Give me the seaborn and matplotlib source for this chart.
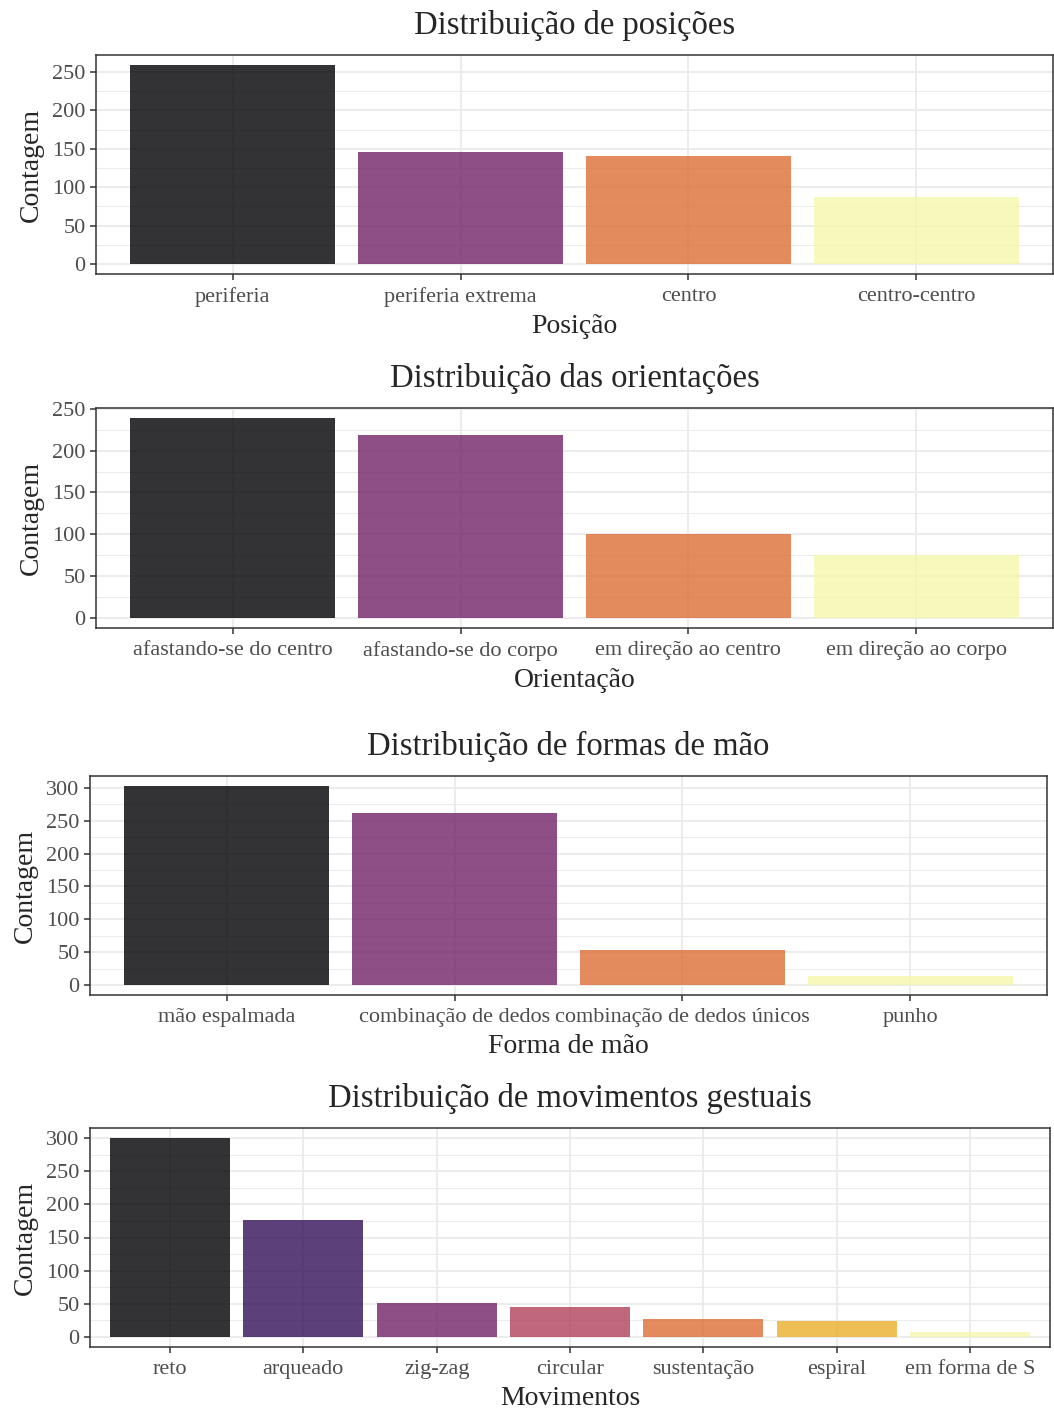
import numpy as np
import pandas as pd
import matplotlib
matplotlib.use("Agg")
import matplotlib.pyplot as plt
from matplotlib.ticker import MultipleLocator
import seaborn as sns

# Data
posicao_cats = ['periferia', 'periferia extrema', 'centro', 'centro-centro']
posicao_vals = [259, 146, 141, 87]

orient_cats = ['afastando-se do centro', 'afastando-se do corpo',
               'em direção ao centro', 'em direção ao corpo']
orient_vals = [239, 219, 100, 75]

forma_cats = ['mão espalmada', 'combinação de dedos', 'combinação de dedos únicos', 'punho']
forma_vals = [303, 262, 53, 14]

mov_cats = ['reto', 'arqueado', 'zig-zag', 'circular', 'sustentação', 'espiral', 'em forma de S']
mov_vals = [300, 177, 52, 46, 27, 24, 7]

# inferno colours (as in R viridis::inferno)
inferno4 = ['#000004', '#781C6D', '#ED6925', '#FCFFA4']
inferno7 = ['#000004', '#320A5E', '#781C6D', '#BB3754', '#ED6925', '#FBB61A', '#FCFFA4']

sns.set_style("white")
plt.rcParams['font.family'] = ['Liberation Serif', 'DejaVu Serif']

W, H = 1054, 1411
fig = plt.figure(figsize=(W / 100, H / 100), dpi=100)

panels = [
    (posicao_cats, posicao_vals, inferno4, 'Distribuição de posições', 'Posição', (96, 1053, 55, 274)),
    (orient_cats, orient_vals, inferno4, 'Distribuição das orientações', 'Orientação', (96, 1053, 408, 628)),
    (forma_cats, forma_vals, inferno4, 'Distribuição de formas de mão', 'Forma de mão', (90, 1047, 776, 995)),
    (mov_cats, mov_vals, inferno7, 'Distribuição de movimentos gestuais', 'Movimentos', (90, 1050, 1128, 1347)),
]

grey20 = '#333333'
grey30 = '#4D4D4D'
grey92 = '#EBEBEB'

for cats, vals, pal, title, xlabel, (l, r, t, b) in panels:
    ax = fig.add_axes([l / W, 1 - b / H, (r - l) / W, (b - t) / H])
    df = pd.DataFrame({'cat': cats, 'n': vals})
    sns.barplot(data=df, x='cat', y='n', hue='cat', palette=pal, alpha=0.8,
                saturation=0.85, width=0.9, legend=False, ax=ax, order=cats,
                hue_order=cats, linewidth=0)
    n = len(cats)
    ymax = max(vals)
    ax.set_xlim(-0.6, n - 0.4)
    ax.set_ylim(-0.05 * ymax, 1.05 * ymax)
    ax.yaxis.set_major_locator(MultipleLocator(50))
    ax.yaxis.set_minor_locator(MultipleLocator(25))
    ax.set_axisbelow(True)
    ax.grid(True, which='major', axis='both', color=grey92, lw=1.3)
    ax.grid(True, which='minor', axis='y', color=grey92, lw=0.7)
    for s in ax.spines.values():
        s.set_color(grey20)
        s.set_linewidth(1.1)
    ax.tick_params(axis='both', which='major', length=4.5, width=1.1, color=grey20,
                   labelsize=16, labelcolor=grey30, pad=3, left=True, bottom=True)
    ax.tick_params(axis='x', which='major', pad=5)
    ax.tick_params(axis='y', which='minor', length=0)
    ax.set_title(title, fontsize=23.5, pad=15)
    ax.set_xlabel(xlabel, fontsize=20, labelpad=5)
    ax.set_ylabel('Contagem', fontsize=20, labelpad=6)

fig.savefig('out.png', dpi=100)
